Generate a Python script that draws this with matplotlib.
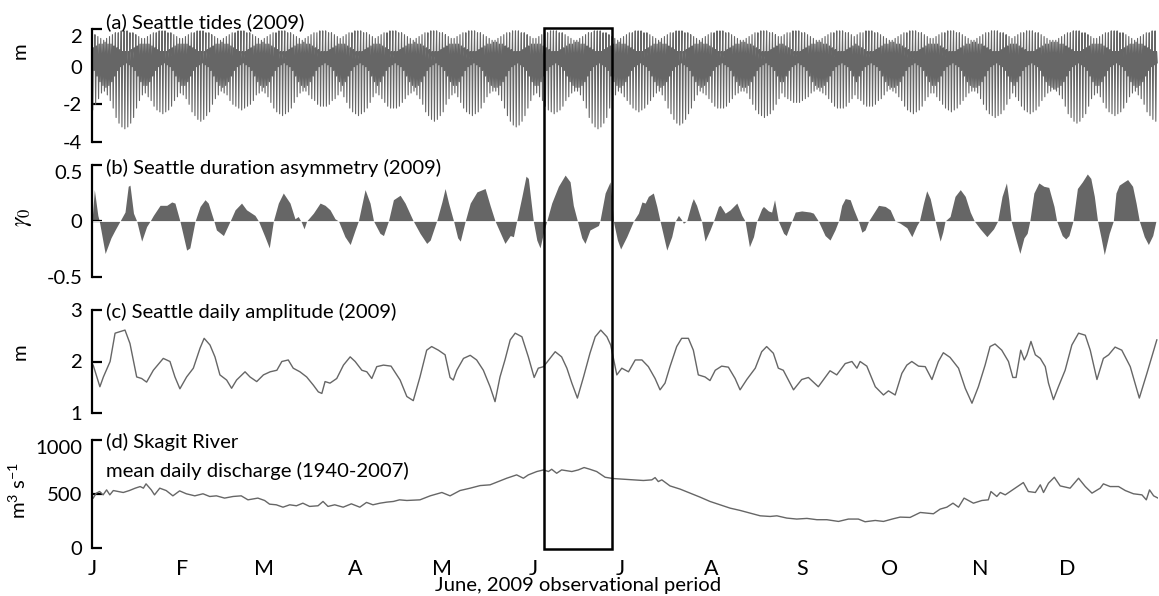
import numpy as np
import matplotlib
matplotlib.use("Agg")
import matplotlib.pyplot as plt
from matplotlib.patches import Rectangle
from matplotlib.transforms import blended_transform_factory

plt.rcParams['font.family'] = ['Lato', 'DejaVu Sans']
plt.rcParams['mathtext.fontset'] = 'custom'
plt.rcParams['mathtext.rm'] = 'Lato'
plt.rcParams['mathtext.it'] = 'Lato:italic'

GREY = '#666666'

# ---- (a) Seattle tides 2009: daily extremes in decimetres (HH, LL, LH, HL) ----
tide_hh = [
    18, 17, 16, 15, 14, 15, 16, 17, 18, 18, 19, 19,
    19, 18, 18, 17, 16, 15, 15, 16, 17, 18, 18, 19, 19,
    19, 18, 18, 17, 16, 15, 15, 16, 17, 18, 18, 19, 19,
    19, 18, 18, 17, 16, 15, 14, 15, 16, 17, 18, 18, 19, 19,
    19, 18, 18, 17, 16, 15, 14, 15, 16, 17, 18, 18, 19, 19,
    19, 18, 18, 17, 16, 15, 14, 15, 16, 17, 18, 18, 19, 19,
    19, 18, 18, 17, 16, 15, 16, 17, 18, 18, 19, 19,
    19, 18, 18, 17, 16, 15, 16, 17, 18, 18, 19, 19,
    19, 18, 18, 17, 16, 15, 14, 15, 16, 17, 18, 18, 19, 19,
    19, 18, 18, 17, 16, 15, 15, 16, 17, 18, 18, 19, 19,
    19, 18, 18, 17, 16, 15, 14, 14, 15, 16, 17, 18, 18, 19, 19,
    19, 18, 18, 17, 16, 15, 15, 16, 17, 18, 18, 19, 19,
    19, 18, 18, 17, 16, 15, 14, 14, 15, 16, 17, 18, 18, 19, 19,
    19, 18, 18, 17, 16, 15, 14, 15, 16, 17, 18, 18, 19, 19,
    19, 18, 18, 17, 16, 15, 14, 15, 16, 17, 18, 18, 19, 19,
    19, 18, 18, 17, 16, 15, 14, 15, 16, 17, 18, 18, 19, 19,
    19, 18, 18, 17, 16, 15, 14, 14, 15, 16, 17, 18, 18, 19, 19,
    19, 18, 18, 17, 16, 16, 17, 18, 18, 19, 19,
    19, 18, 18, 17, 16, 15, 14, 14, 15, 16, 17, 18, 18, 19, 19,
    19, 18, 18, 17, 16, 17, 18, 18, 19, 19,
    19, 18, 18, 17, 16, 15, 14, 14, 15, 16, 17, 18, 18, 19, 19,
    19, 18, 18, 17, 16, 15, 15, 16, 17, 18, 18, 19, 19,
    19, 18, 18, 17, 16, 15, 14, 14, 15, 16, 17, 18, 18, 19, 19,
    19, 18, 18, 17, 16, 15, 16, 17, 18, 18, 19, 19,
    19, 18, 18, 17, 16, 15, 14, 14, 14, 15, 16, 17, 18, 18, 19, 19,
    19, 18, 18, 17, 16, 15, 15, 16, 17, 18, 18, 19, 19,
    19, 18, 18, 17, 16, 15, 14, 15, 16, 17, 18, 18, 19, 19,
]
tide_lh = [
    10, 11, 12, 12, 13, 12, 12, 11, 10, 9, 8, 8,
    8, 9, 10, 11, 12, 12, 12, 12, 11, 10, 9, 8, 8,
    8, 9, 10, 11, 12, 12, 12, 12, 11, 10, 9, 8, 8,
    8, 9, 10, 11, 12, 12, 13, 12, 12, 11, 10, 9, 8, 8,
    8, 9, 10, 11, 12, 12, 13, 12, 12, 11, 10, 9, 8, 8,
    8, 9, 10, 11, 12, 12, 13, 12, 12, 11, 10, 9, 8, 8,
    8, 9, 10, 11, 12, 12, 12, 11, 10, 9, 8, 8,
    8, 9, 10, 11, 12, 12, 12, 11, 10, 9, 8, 8,
    8, 9, 10, 11, 12, 12, 13, 12, 12, 11, 10, 9, 8, 8,
    8, 9, 10, 11, 12, 12, 12, 12, 11, 10, 9, 8, 8,
    8, 9, 10, 11, 12, 12, 13, 13, 12, 12, 11, 10, 9, 8, 8,
    8, 9, 10, 11, 12, 12, 12, 12, 11, 10, 9, 8, 8,
    8, 9, 10, 11, 12, 12, 13, 13, 12, 12, 11, 10, 9, 8, 8,
    8, 9, 10, 11, 12, 12, 13, 12, 12, 11, 10, 9, 8, 8,
    8, 9, 10, 11, 12, 12, 13, 12, 12, 11, 10, 9, 8, 8,
    8, 9, 10, 11, 12, 12, 13, 12, 12, 11, 10, 9, 8, 8,
    8, 9, 10, 11, 12, 12, 13, 13, 12, 12, 11, 10, 9, 8, 8,
    8, 9, 10, 11, 12, 12, 11, 10, 9, 8, 8,
    8, 9, 10, 11, 12, 12, 13, 13, 12, 12, 11, 10, 9, 8, 8,
    8, 9, 10, 11, 12, 11, 10, 9, 8, 8,
    8, 9, 10, 11, 12, 12, 13, 13, 12, 12, 11, 10, 9, 8, 8,
    8, 9, 10, 11, 12, 12, 12, 12, 11, 10, 9, 8, 8,
    8, 9, 10, 11, 12, 12, 13, 13, 12, 12, 11, 10, 9, 8, 8,
    8, 9, 10, 11, 12, 12, 12, 11, 10, 9, 8, 8,
    8, 9, 10, 11, 12, 12, 13, 13, 13, 12, 12, 11, 10, 9, 8, 8,
    8, 9, 10, 11, 12, 12, 12, 12, 11, 10, 9, 8, 8,
    8, 9, 10, 11, 12, 12, 13, 12, 12, 11, 10, 9, 8, 8,
]
tide_hl = [
    -2, -5, -8, -10, -11, -10, -8, -5, -2, 0, 1, 2,
    1, 0, -2, -5, -8, -10, -10, -8, -5, -2, 0, 1, 2,
    1, 0, -2, -5, -8, -10, -10, -8, -5, -2, 0, 1, 2,
    1, 0, -2, -5, -8, -10, -11, -10, -8, -5, -2, 0, 1, 2,
    1, 0, -2, -5, -8, -10, -11, -10, -8, -5, -2, 0, 1, 2,
    1, 0, -2, -5, -8, -10, -11, -10, -8, -5, -2, 0, 1, 2,
    1, 0, -2, -5, -8, -10, -8, -5, -2, 0, 1, 2,
    1, 0, -2, -5, -8, -10, -8, -5, -2, 0, 1, 2,
    1, 0, -2, -5, -8, -10, -11, -10, -8, -5, -2, 0, 1, 2,
    1, 0, -2, -5, -8, -10, -10, -8, -5, -2, 0, 1, 2,
    1, 0, -2, -5, -8, -10, -11, -11, -10, -8, -5, -2, 0, 1, 2,
    1, 0, -2, -5, -8, -10, -10, -8, -5, -2, 0, 1, 2,
    1, 0, -2, -5, -8, -10, -11, -11, -10, -8, -5, -2, 0, 1, 2,
    1, 0, -2, -5, -8, -10, -11, -10, -8, -5, -2, 0, 1, 2,
    1, 0, -2, -5, -8, -10, -11, -10, -8, -5, -2, 0, 1, 2,
    1, 0, -2, -5, -8, -10, -11, -10, -8, -5, -2, 0, 1, 2,
    1, 0, -2, -5, -8, -10, -11, -11, -10, -8, -5, -2, 0, 1, 2,
    1, 0, -2, -5, -8, -8, -5, -2, 0, 1, 2,
    1, 0, -2, -5, -8, -10, -11, -11, -10, -8, -5, -2, 0, 1, 2,
    1, 0, -2, -5, -8, -5, -2, 0, 1, 2,
    1, 0, -2, -5, -8, -10, -11, -11, -10, -8, -5, -2, 0, 1, 2,
    1, 0, -2, -5, -8, -10, -10, -8, -5, -2, 0, 1, 2,
    1, 0, -2, -5, -8, -10, -11, -11, -10, -8, -5, -2, 0, 1, 2,
    1, 0, -2, -5, -8, -10, -8, -5, -2, 0, 1, 2,
    1, 0, -2, -5, -8, -10, -11, -12, -11, -10, -8, -5, -2, 0, 1, 2,
    1, 0, -2, -5, -8, -10, -10, -8, -5, -2, 0, 1, 2,
    1, 0, -2, -5, -8, -10, -11, -10, -8, -5, -2, 0, 1, 2,
]
tide_ll = [
    -23, -20, -17, -14, -13, -15, -18, -22, -27, -30, -32, -33,
    -32, -30, -27, -22, -18, -15, -14, -16, -18, -21, -23, -24, -25,
    -24, -23, -21, -18, -16, -14, -15, -17, -20, -24, -26, -28, -29,
    -28, -26, -24, -20, -17, -15, -13, -14, -15, -18, -20, -21, -22, -23,
    -22, -21, -20, -18, -15, -14, -13, -14, -16, -19, -22, -24, -25, -26,
    -25, -24, -22, -19, -16, -14, -13, -13, -15, -17, -18, -20, -21, -21,
    -21, -20, -18, -17, -15, -13, -16, -19, -22, -24, -25, -26,
    -25, -24, -22, -19, -16, -14, -15, -17, -19, -21, -22, -22,
    -22, -21, -19, -17, -15, -14, -13, -15, -17, -20, -24, -26, -28, -29,
    -28, -26, -24, -20, -17, -15, -14, -16, -19, -22, -24, -25, -26,
    -25, -24, -22, -19, -16, -14, -13, -13, -15, -18, -22, -26, -29, -31, -32,
    -31, -29, -26, -22, -18, -15, -14, -16, -18, -21, -23, -24, -25,
    -24, -23, -21, -18, -16, -14, -13, -13, -15, -18, -22, -27, -30, -32, -33,
    -32, -30, -27, -22, -18, -15, -13, -14, -16, -18, -20, -22, -23, -24,
    -23, -22, -20, -18, -16, -14, -13, -15, -18, -22, -25, -28, -30, -31,
    -30, -28, -25, -22, -18, -15, -13, -14, -15, -17, -19, -21, -22, -22,
    -22, -21, -19, -17, -15, -14, -13, -13, -14, -17, -20, -23, -25, -26, -27,
    -26, -25, -23, -20, -17, -14, -16, -17, -18, -19, -19,
    -19, -18, -17, -16, -14, -13, -12, -13, -14, -15, -17, -19, -21, -22, -22,
    -22, -21, -19, -17, -15, -17, -18, -20, -21, -21,
    -21, -20, -18, -17, -15, -13, -12, -13, -14, -16, -18, -21, -23, -24, -25,
    -24, -23, -21, -18, -16, -14, -14, -16, -18, -20, -22, -23, -24,
    -23, -22, -20, -18, -16, -14, -13, -13, -14, -17, -20, -23, -25, -26, -27,
    -26, -25, -23, -20, -17, -14, -16, -18, -21, -23, -24, -25,
    -24, -23, -21, -18, -16, -14, -13, -12, -13, -15, -17, -21, -25, -27, -29, -30,
    -29, -27, -25, -21, -17, -15, -14, -16, -19, -22, -24, -25, -26,
    -25, -24, -22, -19, -16, -14, -13, -15, -17, -20, -24, -26, -28, -29,
]

# ---- (b) duration asymmetry gamma_0 (day of year, value) ----
asym_day = [
    0.0, 0.8, 2.0, 2.5, 4.5, 6.5, 7.9, 9.6, 11.3, 12.4, 13.0, 14.2, 15.3, 17.0, 18.7,
    19.9, 21.0, 23.3, 25.6, 27.3, 28.4, 30.1, 32.4, 33.5, 35.3, 37.0, 38.7, 39.8, 41.5,
    42.6, 45.0, 47.3, 49.0, 51.2, 52.9, 55.8, 57.0, 59.2, 60.7, 62.1, 63.8, 65.5, 67.8,
    69.5, 70.6, 71.7, 72.6, 73.5, 75.8, 78.1, 79.8, 81.5, 83.2, 84.4, 86.6, 88.4, 90.1,
    91.2, 93.5, 95.2, 96.4, 98.6, 99.8, 101.5, 103.2, 105.5, 107.2, 110.0, 112.3, 114.6,
    115.8, 118.0, 119.8, 120.9, 122.1, 123.8, 125.2, 126.1, 127.8, 129.5, 131.8, 134.6,
    136.3, 138.0, 141.4, 143.2, 144.3, 145.4, 147.2, 148.6, 149.4, 151.1, 152.3, 153.4,
    154.8, 155.7, 157.4, 159.7, 162.0, 163.7, 164.8, 166.2, 167.7, 168.8, 170.5, 173.4,
    173.9, 175.7, 177.4, 178.0, 178.5, 179.9, 181.0, 183.1, 185.4, 187.1, 188.3, 189.4,
    190.5, 192.2, 193.4, 194.5, 196.8, 198.5, 199.7, 200.8, 201.9, 202.5, 203.6, 205.3,
    205.9, 207.0, 208.7, 209.9, 211.6, 212.8, 214.5, 215.1, 216.8, 218.5, 220.8, 222.5,
    223.6, 225.1, 226.5, 227.6, 229.3, 229.9, 231.6, 232.7, 233.7, 235.0, 236.8, 237.7,
    239.6, 240.8, 243.0, 245.9, 247.0, 248.7, 251.0, 252.7, 254.4, 255.6, 256.7, 257.9,
    259.6, 260.7, 262.4, 263.6, 264.7, 265.9, 267.6, 269.3, 271.6, 273.3, 275.0, 276.7,
    279.0, 280.7, 282.4, 283.3, 284.7, 285.8, 287.0, 288.7, 290.4, 291.3, 292.1, 293.8,
    295.5, 297.3, 299.0, 300.7, 302.1, 304.1, 306.4, 308.7, 310.1, 311.6, 313.1, 313.9,
    314.7, 316.2, 317.7, 319.1, 320.2, 321.1, 322.5, 324.2, 325.9, 327.6, 329.4, 330.3,
    332.2, 333.4, 334.5, 335.9, 337.4, 339.1, 340.8, 342.0, 343.2, 344.3, 345.5, 346.6,
    348.3, 349.7, 350.6, 351.7, 353.4, 354.6, 356.3, 357.5, 358.6, 360.3, 361.7, 363.2,
    364.3,
]
asym_val = [
    0.0, 0.28, 0.05, 0.0, -0.29, -0.15, -0.08, 0.0, 0.08, 0.31, 0.32, 0.07, 0.0, -0.18, -0.05,
    0.0, 0.05, 0.14, 0.14, 0.17, 0.16, 0.0, -0.26, -0.24, 0.0, 0.13, 0.19, 0.16, 0.02,
    -0.08, -0.13, 0.0, 0.10, 0.16, 0.10, 0.05, 0.0, -0.14, -0.24, 0.0, 0.16, 0.25, 0.16,
    0.02, 0.04, -0.01, -0.07, 0.0, 0.07, 0.16, 0.14, 0.10, 0.02, 0.0, -0.14, -0.21, -0.08,
    0.0, 0.28, 0.16, 0.0, -0.11, -0.13, 0.0, 0.19, 0.23, 0.16, 0.0, -0.11, -0.20,
    -0.17, 0.0, 0.17, 0.29, 0.16, 0.0, -0.15, -0.18, 0.0, 0.16, 0.26, 0.29,
    0.14, 0.0, -0.20, -0.13, -0.14, 0.0, 0.22, 0.40, 0.38, 0.0, -0.17, -0.24,
    -0.08, 0.0, 0.16, 0.31, 0.41, 0.35, 0.14, 0.0, -0.15, -0.20, -0.08, -0.04,
    0.0, 0.25, 0.35, 0.19, 0.0, -0.17, -0.25, -0.14, 0.0, 0.07, 0.17, 0.16,
    0.22, 0.25, 0.13, 0.0, -0.26, -0.14, 0.0, 0.05, 0.01, -0.02, 0.0, 0.16,
    0.20, 0.14, 0.0, -0.18, -0.08, 0.0, 0.13, 0.14, 0.07, 0.10, 0.16, 0.05,
    0.0, -0.23, -0.14, 0.0, 0.11, 0.13, 0.09, 0.08, 0.19, 0.0, -0.11, -0.13,
    0.0, 0.08, 0.09, 0.08, 0.07, 0.0, -0.13, -0.17, -0.08, 0.0, 0.14, 0.20,
    0.19, 0.11, 0.0, -0.10, -0.08, 0.0, 0.07, 0.14, 0.13, 0.10, 0.0, -0.02,
    -0.06, -0.14, -0.04, 0.0, 0.16, 0.27, 0.20, 0.0, -0.18, -0.10, 0.0, 0.04,
    0.22, 0.28, 0.22, 0.08, 0.0, -0.07, -0.14, -0.07, 0.0, 0.22, 0.34, 0.19,
    0.0, -0.15, -0.29, -0.15, -0.11, 0.0, 0.25, 0.34, 0.31, 0.30, 0.13, 0.0,
    -0.13, -0.16, -0.13, 0.0, 0.29, 0.35, 0.42, 0.38, 0.22, 0.0, -0.15, -0.30,
    -0.11, 0.0, 0.25, 0.32, 0.35, 0.37, 0.31, 0.16, 0.0, -0.14, -0.21, -0.13,
    0.0,
]

# ---- (c) daily amplitude (m) ----
amp_day = [
    0.4, 2.7, 3.9, 6.2, 7.9, 9.6, 11.3, 13.0, 15.3, 17.0, 18.7, 21.0, 24.4, 26.7, 28.4,
    30.1, 32.4, 34.7, 37.0, 38.4, 40.4, 42.1, 43.8, 46.1, 47.8, 49.5, 52.4, 54.1, 56.4,
    58.7, 61.0, 63.3, 65.0, 67.2, 68.9, 71.2, 73.5, 75.8, 77.5, 78.7, 79.8, 81.5, 83.8,
    86.1, 88.4, 90.1, 92.4, 94.1, 95.8, 97.5, 99.8, 102.4, 105.5, 107.8, 110.0, 112.3,
    114.6, 116.3, 118.6, 120.9, 122.6, 123.7, 124.9, 127.2, 129.5, 131.7, 134.0, 136.3,
    138.0, 139.7, 141.4, 143.2, 144.9, 147.2, 149.4, 151.4, 152.8, 154.6, 158.6, 160.8,
    162.6, 164.3, 166.2, 168.3, 170.5, 172.3, 174.2, 176.3, 177.6, 179.7, 181.4, 183.7,
    186.0, 188.3, 190.5, 192.8, 194.5, 196.2, 197.9, 200.2, 201.9, 204.2, 205.9, 207.6,
    209.9, 211.6, 213.4, 215.6, 217.9, 220.2, 221.9, 224.2, 227.1, 229.3, 231.0, 233.3,
    235.0, 236.7, 240.2, 243.0, 245.3, 248.7, 250.5, 252.7, 255.0, 257.9, 260.2, 261.9,
    263.0, 265.3, 268.2, 271.0, 272.7, 275.0, 277.3, 279.0, 280.7, 283.0, 285.3, 287.6,
    289.8, 291.5, 293.8, 296.7, 299.0, 301.3, 303.5, 305.8, 307.5, 309.2, 311.5, 313.8,
    315.3, 316.4, 318.0, 319.2, 320.1, 321.5, 323.0, 324.7, 326.4, 327.5, 329.2, 330.9,
    333.2, 335.5, 337.8, 340.1, 341.8, 344.1, 346.3, 348.1, 350.3, 352.6, 355.5, 358.6,
    361.2, 364.6,
]
amp_val = [
    1.93, 1.51, 1.70, 2.00, 2.55, 2.58, 2.61, 2.35, 1.70, 1.67, 1.60, 1.83, 2.06, 2.00, 1.70,
    1.47, 1.70, 1.87, 2.26, 2.45, 2.32, 2.09, 1.74, 1.64, 1.48, 1.64, 1.80, 1.70, 1.61,
    1.74, 1.80, 1.83, 2.00, 2.03, 1.87, 1.80, 1.70, 1.54, 1.41, 1.38, 1.61, 1.58, 1.67,
    1.93, 2.09, 2.00, 1.83, 1.80, 1.67, 1.90, 1.93, 1.91, 1.64, 1.32, 1.24, 1.70,
    2.22, 2.29, 2.22, 2.13, 1.69, 1.64, 1.83, 2.06, 2.12, 2.03, 1.83, 1.51,
    1.22, 1.70, 2.03, 2.42, 2.55, 2.48, 2.09, 1.69, 1.87, 1.90, 2.19, 2.09,
    1.87, 1.58, 1.29, 1.70, 2.16, 2.48, 2.61, 2.48, 2.32, 1.74, 1.87, 1.80,
    2.03, 2.03, 1.90, 1.67, 1.45, 1.58, 1.90, 2.29, 2.45, 2.45, 2.22, 1.74,
    1.70, 1.63, 1.83, 1.91, 1.89, 1.67, 1.45, 1.65, 1.87, 2.19, 2.29, 2.16,
    1.87, 1.83, 1.45, 1.65, 1.69, 1.51, 1.65, 1.82, 1.74, 1.96, 2.00, 1.87,
    2.00, 1.91, 1.51, 1.35, 1.43, 1.35, 1.77, 1.93, 2.00, 1.91, 1.90, 1.65,
    2.00, 2.17, 2.08, 1.87, 1.48, 1.19, 1.51, 1.93, 2.29, 2.34, 2.22, 2.00,
    1.69, 1.69, 2.22, 2.03, 2.13, 2.39, 2.13, 2.06, 1.90, 1.58, 1.26, 1.51,
    1.83, 2.32, 2.55, 2.51, 2.22, 1.65, 2.06, 2.13, 2.28, 2.22, 1.90, 1.29,
    1.77, 2.42,
]

# ---- (d) Skagit River mean daily discharge (m3/s) ----
flow_day = [
    0.4, 1.5, 2.6, 3.8, 5.0, 6.1, 7.3, 9.0, 10.7, 12.8, 14.8, 16.5, 17.6, 18.5, 20.3,
    21.4, 23.2, 25.4, 27.7, 30.0, 32.3, 35.2, 38.0, 40.3, 42.6, 45.4, 48.3, 51.1, 53.4,
    56.8, 59.1, 60.8, 63.1, 65.4, 67.7, 70.0, 72.2, 74.5, 77.4, 79.1, 80.8, 83.1, 86.0,
    88.8, 91.7, 94.0, 96.2, 98.6, 101.0, 103.2, 105.3, 107.8, 112.3, 115.8, 119.8, 122.6,
    126.0, 129.5, 132.9, 136.3, 139.1, 142.0, 145.4, 147.7, 149.4, 152.3, 154.6, 156.3,
    157.4, 159.1, 160.8, 164.3, 166.5, 168.5, 170.5, 172.8, 175.7, 178.5, 182.0, 185.4,
    188.8, 191.7, 192.8, 193.9, 195.1, 197.9, 201.4, 204.8, 208.2, 211.6, 215.1, 218.5,
    221.9, 225.3, 228.8, 232.2, 234.5, 237.9, 241.3, 244.8, 248.2, 251.6, 255.6, 259.0,
    262.4, 264.7, 268.2, 271.0, 274.4, 276.7, 280.1, 283.6, 288.1, 290.4, 292.7, 294.8,
    296.7, 298.6, 301.8, 304.7, 306.9, 307.8, 309.8, 311.0, 312.7, 316.1, 318.9, 320.6,
    323.0, 324.7, 325.8, 327.5, 329.5, 331.5, 334.9, 337.8, 340.1, 342.4, 345.2, 346.3,
    348.6, 351.5, 353.8, 356.6, 359.5, 361.0, 362.1, 363.5, 365.0,
]
flow_val = [
    462, 508, 523, 492, 538, 492, 532, 523, 514, 532, 554, 569, 554, 594, 538,
    492, 554, 532, 483, 529, 502, 483, 502, 477, 483, 462, 477, 483, 446,
    462, 440, 406, 400, 378, 400, 391, 415, 385, 391, 431, 385, 400, 378,
    409, 378, 422, 400, 415, 425, 431, 446, 440, 446, 483, 514, 483,
    532, 554, 578, 585, 615, 646, 677, 646, 677, 708, 723, 708,
    729, 692, 723, 708, 723, 745, 729, 708, 655, 643, 637, 631,
    625, 631, 652, 615, 631, 575, 545, 508, 471, 431, 400, 369,
    348, 323, 298, 292, 298, 277, 268, 274, 262, 262, 246, 268,
    268, 243, 255, 246, 271, 286, 283, 329, 317, 360, 378, 415,
    378, 462, 415, 440, 446, 523, 477, 514, 492, 554, 606, 523,
    514, 585, 514, 600, 655, 575, 554, 646, 569, 508, 554, 594,
    569, 569, 532, 502, 492, 446, 538, 483, 462,
]

month_start = [0, 31, 59, 90, 120, 151, 181, 212, 243, 273, 304, 334]
month_label = ['J', 'F', 'M', 'A', 'M', 'J', 'J', 'A', 'S', 'O', 'N', 'D']
obs_start, obs_end = 154.8, 177.9  # June 2009 observational period (day of year)

# ---------------------------------------------------------------
W, H = 1159, 596
FS = 14.6
fig = plt.figure(figsize=(W / 100, H / 100), dpi=100)


def panel(top, bottom):
    return fig.add_axes([92 / W, 1 - bottom / H, (1158 - 92) / W, (bottom - top) / H])


ax_a = panel(29, 142)
ax_b = panel(165, 277)
ax_c = panel(310, 413)
ax_d = panel(440, 548)

# (a) tides: four extremes per day joined by a line
n = min(len(tide_hh), len(tide_ll), len(tide_lh), len(tide_hl))
ext = np.column_stack([tide_hh[:n], tide_ll[:n], tide_lh[:n], tide_hl[:n]]) / 10.0
tx = (np.arange(n)[:, None] + np.array([0.0, 0.25, 0.5, 0.75])).ravel()
ax_a.plot(tx, ext.ravel(), color=GREY, lw=0.8, clip_on=False)
ax_a.set_ylim(-4, 2)
ax_a.set_yticks([-4, -2, 0, 2], ['-4', '-2', '0', '2'])

# (b) duration asymmetry
ax_b.fill_between(asym_day, 0, asym_val, color=GREY, lw=0)
ax_b.axhline(0, color='white', lw=0.6)
ax_b.set_ylim(-0.5, 0.5)
ax_b.set_yticks([-0.5, 0, 0.5], ['-0.5', '0', '0.5'])

# (c) daily amplitude
ax_c.plot(amp_day, amp_val, color=GREY, lw=1.0)
ax_c.set_ylim(1, 3)
ax_c.set_yticks([1, 2, 3], ['1', '2', '3'])

# (d) river discharge
ax_d.plot(flow_day, flow_val, color=GREY, lw=1.0)
ax_d.set_ylim(0, 1000)
ax_d.set_yticks([0, 500, 1000], ['0', '500', '1000'])

for ax in (ax_a, ax_b, ax_c, ax_d):
    for s in ('top', 'right', 'bottom'):
        ax.spines[s].set_visible(False)
    ax.spines['left'].set_linewidth(1.6)
    ax.tick_params(axis='y', direction='in', length=7, width=1.6, labelsize=FS, pad=7)
    ax.set_xlim(0, 365)
    ax.set_xticks([])
    ax.patch.set_visible(False)

# top tick labels hang below their tick in panels a, b, d
for ax in (ax_a, ax_b, ax_d):
    ax.yaxis.get_major_ticks()[-1].label1.set_va('top')

ax_d.set_xticks(month_start, month_label)
ax_d.tick_params(axis='x', length=0, labelsize=15.5, pad=8)

# panel titles
fig.text(106 / W, 1 - 22 / H, '(a) Seattle tides (2009)', fontsize=FS, va='center')
fig.text(106 / W, 1 - 168 / H, '(b) Seattle duration asymmetry (2009)', fontsize=FS, va='center')
fig.text(106 / W, 1 - 312 / H, '(c) Seattle daily amplitude (2009)', fontsize=FS, va='center')
fig.text(106 / W, 1 - 442 / H, '(d) Skagit River', fontsize=FS, va='center')
fig.text(106 / W, 1 - 471 / H, 'mean daily discharge (1940-2007)', fontsize=FS, va='center')

# y axis labels
fig.text(20 / W, 1 - 51 / H, 'm', fontsize=FS, rotation=90, ha='center', va='center')
fig.text(24 / W, 1 - 217 / H, r'$\gamma_0$', fontsize=17, rotation=90, ha='center',
         va='center', math_fontfamily='stix')
fig.text(20 / W, 1 - 352 / H, 'm', fontsize=FS, rotation=90, ha='center', va='center')
fig.text(18 / W, 1 - 490 / H, r'm$^{\mathregular{3}}$ s$^{\mathregular{-1}}$', fontsize=FS,
         rotation=90, ha='center', va='center')

# observational period box spanning all panels
blend = blended_transform_factory(ax_d.transData, fig.transFigure)
box = Rectangle((obs_start, 1 - 549 / H), obs_end - obs_start, (549 - 28) / H,
                transform=blend, fill=False, ec='black', lw=1.8)
fig.add_artist(box)
fig.text((obs_start + obs_end) / 2, 1 - 586 / H, 'June, 2009 observational period',
         transform=blend, fontsize=FS, ha='center', va='center')

fig.savefig('out.png', dpi=100)
